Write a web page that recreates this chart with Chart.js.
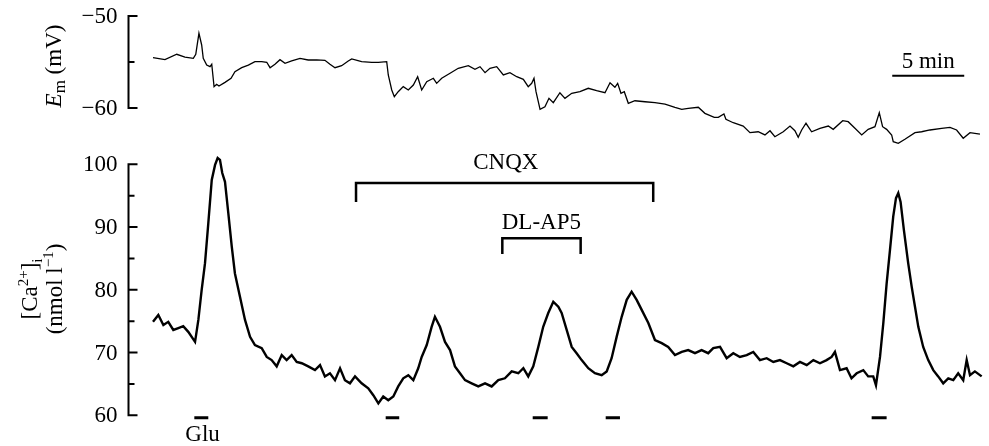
<!DOCTYPE html>
<html>
<head>
<meta charset="utf-8">
<script src="https://cdn.jsdelivr.net/npm/chart.js@4.4.1/dist/chart.umd.min.js"></script>
<style>
  html, body { margin: 0; padding: 0; background: #fff; }
  #trace { display: block; }
</style>
</head>
<body>
<canvas id="trace" width="989" height="446"></canvas>
<script>
// Membrane potential trace (time in min, Em in mV)
const emTime = [0.00,0.83,1.65,2.22,2.80,2.97,3.19,3.38,3.49,3.73,
  3.96,4.08,4.24,4.42,4.58,5.00,5.42,5.69,6.16,6.62,
  7.08,7.55,7.90,8.13,8.47,8.82,9.17,9.63,10.21,10.78,
  11.37,11.94,12.29,12.64,13.10,13.56,13.80,14.49,15.19,15.65,
  16.23,16.34,16.58,16.76,17.03,17.38,17.73,18.08,18.38,18.66,
  19.01,19.47,19.70,20.05,20.63,21.20,21.90,22.36,22.71,23.06,
  23.40,23.87,24.33,24.79,25.26,25.72,26.06,26.30,26.46,26.60,
  26.88,27.22,27.50,27.80,28.26,28.61,29.08,29.65,30.23,30.81,
  31.39,31.74,32.08,32.27,32.50,32.73,33.01,33.47,34.17,34.86,
  35.56,36.25,36.72,37.17,37.87,38.33,38.98,39.26,39.65,39.79,
  40.30,40.99,41.46,42.03,42.50,42.85,43.19,43.77,44.24,44.58,
  44.81,45.05,45.35,45.74,46.32,46.90,47.24,47.90,48.28,48.75,
  49.22,49.67,50.14,50.44,50.67,50.95,51.30,51.41,51.76,52.22,
  52.92,53.38,53.96,54.77,55.35,55.81,56.27,56.74,57.43];
const emValue = [-54.53,-54.75,-54.16,-54.46,-54.60,-54.16,-51.88,-53.15,-54.60,-55.33,
  -55.51,-55.25,-57.68,-57.42,-57.61,-57.21,-56.77,-56.05,-55.62,-55.33,
  -54.97,-54.97,-55.03,-55.62,-55.25,-54.75,-55.14,-54.89,-54.60,-54.78,
  -54.78,-54.82,-55.25,-55.62,-55.40,-54.89,-54.67,-54.97,-55.03,-55.03,
  -54.97,-56.41,-58.04,-58.77,-58.23,-57.68,-58.04,-57.50,-56.60,-58.04,
  -57.14,-56.77,-57.32,-56.77,-56.23,-55.68,-55.40,-55.79,-55.51,-56.16,
  -55.68,-55.51,-56.41,-56.16,-56.60,-56.88,-57.68,-57.32,-56.77,-58.23,
  -60.14,-59.86,-58.95,-59.42,-58.34,-58.95,-58.40,-58.23,-57.86,-58.12,
  -58.34,-57.25,-57.75,-57.32,-58.40,-58.23,-59.49,-59.21,-59.32,-59.42,
  -59.57,-59.92,-60.14,-60.03,-59.92,-60.58,-61.01,-61.01,-60.65,-61.23,
  -61.60,-61.96,-62.68,-62.58,-62.93,-62.47,-63.12,-62.58,-61.96,-62.47,
  -63.18,-62.39,-61.66,-62.58,-62.21,-61.96,-62.32,-61.38,-61.49,-62.21,
  -62.93,-62.32,-62.03,-60.51,-62.03,-62.32,-62.93,-63.66,-63.84,-63.40,
  -62.68,-62.58,-62.39,-62.21,-62.10,-62.39,-63.29,-62.68,-62.83];

// Intracellular calcium trace (time in min, nmol l-1)
const caTime = [0.00,0.37,0.72,1.06,1.41,1.76,2.10,2.45,2.92,3.15,
  3.38,3.61,3.84,4.08,4.31,4.49,4.65,4.81,5.00,5.23,
  5.47,5.69,6.04,6.39,6.74,7.08,7.55,7.90,8.24,8.59,
  8.94,9.28,9.63,9.98,10.33,10.78,11.25,11.60,11.94,12.29,
  12.64,12.99,13.33,13.68,14.03,14.49,14.95,15.30,15.65,15.99,
  16.34,16.69,17.03,17.38,17.73,18.08,18.42,18.66,19.01,19.35,
  19.58,19.93,20.28,20.63,20.97,21.32,21.67,22.13,22.59,23.06,
  23.52,23.98,24.44,24.91,25.37,25.72,26.06,26.41,26.76,27.10,
  27.45,27.80,28.15,28.38,28.73,29.08,29.42,29.77,30.23,30.69,
  31.16,31.51,31.85,32.20,32.55,32.90,33.24,33.59,33.94,34.40,
  34.86,35.33,35.78,36.25,36.72,37.17,37.64,38.10,38.56,38.91,
  39.38,39.84,40.30,40.76,41.23,41.69,42.15,42.62,43.08,43.54,
  44.01,44.47,44.93,45.40,45.86,46.32,46.78,47.13,47.36,47.52,
  47.71,48.17,48.51,48.87,49.33,49.67,50.02,50.21,50.49,50.72,
  50.95,51.18,51.41,51.60,51.76,51.92,52.15,52.45,52.69,52.92,
  53.15,53.49,53.84,54.19,54.53,54.88,55.23,55.58,55.92,56.27,
  56.51,56.74,57.08,57.55];
const caValue = [74.9,76.0,74.4,74.9,73.6,73.9,74.2,73.3,71.7,75.2,
  80.0,84.2,90.6,97.5,99.9,101.0,100.7,98.6,97.2,92.2,
  86.9,82.6,78.9,75.2,72.5,71.2,70.7,69.3,68.8,67.8,
  69.6,68.8,69.6,68.5,68.3,67.8,67.2,68.0,66.2,66.7,
  65.6,67.5,65.6,65.1,66.2,65.1,64.3,63.2,61.9,63.0,
  62.4,63.0,64.6,65.9,66.4,65.6,67.5,69.3,71.2,74.1,
  75.7,74.1,71.7,70.4,67.8,66.7,65.6,65.1,64.6,65.1,
  64.6,65.6,65.9,67.0,66.7,67.5,66.2,67.8,70.9,74.1,
  76.3,78.1,77.3,76.3,73.6,70.9,69.9,68.8,67.5,66.7,
  66.4,67.0,69.1,72.5,75.7,78.4,79.7,78.4,76.8,74.7,
  72.0,71.5,70.9,69.6,70.1,70.4,69.9,70.4,69.9,70.7,
  70.9,69.1,69.9,69.3,69.6,70.1,68.8,69.1,68.5,68.8,
  68.3,67.8,68.5,68.0,68.8,68.3,68.8,69.3,70.1,68.8,
  67.2,67.5,65.9,66.7,67.2,66.2,66.2,64.8,69.3,74.7,
  81.0,86.3,91.7,94.6,95.4,94.0,89.5,84.2,80.5,77.3,
  74.1,70.9,68.8,67.2,66.2,65.1,65.9,65.6,66.7,65.6,
  68.8,66.4,67.0,66.2];

// Drug applications (min)
const cnqxPeriod = [14.10, 34.74];
const ap5Period = [24.26, 29.70];
const pulseStart = [2.87, 16.16, 26.37, 31.44, 49.91];
const pulseEnd = [3.84, 17.10, 27.41, 32.43, 50.95];
const scaleBarMin = 5;

// Axis ticks
const emMajorTicks = [-50, -60];
const emTickLabels = ['\u221250', '\u221260'];
const emMinorTicks = [-55];
const caMajorTicks = [60, 70, 80, 90, 100];
const caTickLabels = ['60', '70', '80', '90', '100'];
const caMinorTicks = [65, 75, 85, 95];

const serif = '"Liberation Serif", "Times New Roman", serif';
const fontSize = 23;

function pts(xs, ys) {
    return xs.map((x, i) => ({ x: x, y: ys[i] }));
}

// bracket shape: foot - top - top - foot
function bracket(period, top, foot) {
    return [
        { x: period[0], y: foot }, { x: period[0], y: top },
        { x: period[1], y: top }, { x: period[1], y: foot }
    ];
}

// short bars under the calcium trace, separated by gaps
const pulseData = [];
pulseStart.forEach((s, i) => {
    pulseData.push({ x: s, y: 59.6 }, { x: pulseEnd[i], y: 59.6 }, { x: pulseEnd[i], y: null });
});

const scaleBarStart = 51.34;

function drawRuns(ctx, runs, x, y) {
    let total = 0;
    runs.forEach(r => { ctx.font = r.font; total += ctx.measureText(r.text).width; });
    ctx.save();
    ctx.translate(x, y);
    ctx.rotate(-Math.PI / 2);
    ctx.textAlign = 'left';
    ctx.textBaseline = 'alphabetic';
    let pos = -total / 2;
    runs.forEach(r => {
        ctx.font = r.font;
        ctx.fillText(r.text, pos, r.shift || 0);
        pos += ctx.measureText(r.text).width;
    });
    ctx.restore();
}

// Axis lines, inward ticks, tick labels, titles and annotation text
const decorPlugin = {
    id: 'decor',
    afterDraw(chart) {
        const ctx = chart.ctx;
        const left = chart.chartArea.left - 0.5;
        const em = chart.scales.em;
        const ca = chart.scales.ca;
        const xs = chart.scales.x;
        const big = fontSize + 'px ' + serif;
        const small = '15px ' + serif;
        ctx.save();
        ctx.strokeStyle = '#000';
        ctx.fillStyle = '#000';
        ctx.lineWidth = 2;
        ctx.lineCap = 'square';
        [[em, emMajorTicks, emMinorTicks, emTickLabels], [ca, caMajorTicks, caMinorTicks, caTickLabels]].forEach(([s, major, minor, labels]) => {
            const all = major.concat(minor);
            ctx.beginPath();
            ctx.moveTo(left, s.getPixelForValue(Math.max.apply(null, all)));
            ctx.lineTo(left, s.getPixelForValue(Math.min.apply(null, all)));
            major.forEach(v => {
                const y = s.getPixelForValue(v);
                ctx.moveTo(left, y);
                ctx.lineTo(left + 8, y);
            });
            minor.forEach(v => {
                const y = s.getPixelForValue(v);
                ctx.moveTo(left, y);
                ctx.lineTo(left + 5, y);
            });
            ctx.stroke();

            ctx.font = big;
            ctx.textAlign = 'right';
            ctx.textBaseline = 'middle';
            major.forEach((v, i) => {
                ctx.fillText(labels[i], left - 11, s.getPixelForValue(v) + 1);
            });
        });

        // Axis titles
        drawRuns(ctx, [
            { text: 'E', font: 'italic ' + big },
            { text: 'm', font: '17px ' + serif, shift: 4 },
            { text: ' (mV)', font: big }
        ], 61, 66);
        drawRuns(ctx, [
            { text: '[Ca', font: big },
            { text: '2+', font: small, shift: -9 },
            { text: ']', font: big },
            { text: 'i', font: small, shift: 5 }
        ], 37, 289);
        drawRuns(ctx, [
            { text: '(nmol l', font: big },
            { text: '\u22121', font: small, shift: -9 },
            { text: ')', font: big }
        ], 62, 289);

        // Annotation text
        ctx.font = big;
        ctx.textAlign = 'center';
        ctx.textBaseline = 'middle';
        ctx.fillText('CNQX', xs.getPixelForValue(24.5), ca.getPixelForValue(100.2));
        ctx.fillText('DL-AP5', xs.getPixelForValue(26.97), ca.getPixelForValue(90.6));
        ctx.fillText('Glu', xs.getPixelForValue(3.44), ca.getPixelForValue(56.9));
        ctx.fillText('5 min', xs.getPixelForValue(scaleBarStart + scaleBarMin / 2), em.getPixelForValue(-54.97));
        ctx.restore();
    }
};

const lineStyle = { borderColor: '#000', pointRadius: 0, tension: 0, fill: false };

const ctx = document.getElementById('trace').getContext('2d');
const traceChart = new Chart(ctx, {
    type: 'line',
    data: {
        datasets: [
            Object.assign({ label: 'Em', yAxisID: 'em', borderWidth: 1.3, data: pts(emTime, emValue) }, lineStyle),
            Object.assign({ label: 'Ca', yAxisID: 'ca', borderWidth: 2.4, data: pts(caTime, caValue) }, lineStyle),
            Object.assign({ label: 'CNQX', yAxisID: 'ca', borderWidth: 2.5, data: bracket(cnqxPeriod, 97.0, 94.0) }, lineStyle),
            Object.assign({ label: 'DL-AP5', yAxisID: 'ca', borderWidth: 2.5, data: bracket(ap5Period, 88.2, 85.7) }, lineStyle),
            Object.assign({ label: 'Pulses', yAxisID: 'ca', borderWidth: 3, spanGaps: false, data: pulseData }, lineStyle),
            Object.assign({ label: 'Scale', yAxisID: 'em', borderWidth: 2,
                data: [{ x: scaleBarStart, y: -56.49 }, { x: scaleBarStart + scaleBarMin, y: -56.49 }] }, lineStyle)
        ]
    },
    options: {
        responsive: false,
        animation: false,
        devicePixelRatio: 1,
        layout: { padding: { left: 129, right: 0, top: 0, bottom: 0 } },
        plugins: { legend: { display: false }, tooltip: { enabled: false } },
        scales: {
            x: { type: 'linear', display: false, min: -1.667, max: 58.06 },
            em: { type: 'linear', position: 'left', display: false, min: -96.739, max: -48.261 },
            ca: { type: 'linear', position: 'left', display: false, min: 55.11, max: 126.18 }
        }
    },
    plugins: [decorPlugin]
});
</script>
</body>
</html>
